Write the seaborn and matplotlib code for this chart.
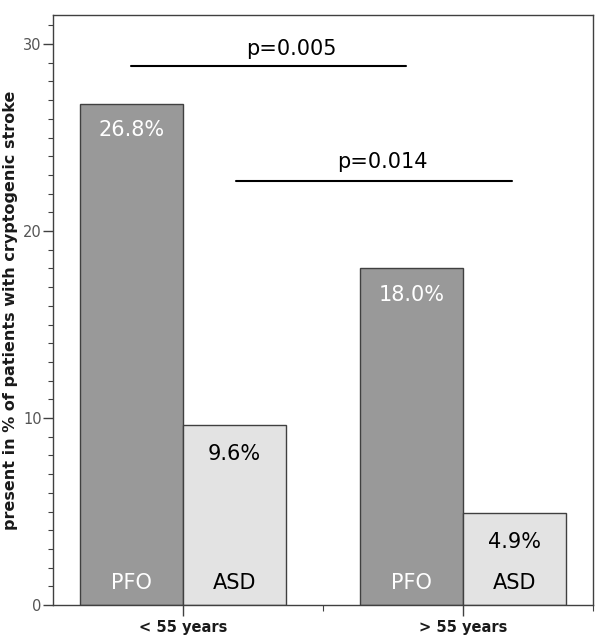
import pandas as pd
import numpy as np
import matplotlib
matplotlib.use("Agg")
import matplotlib.pyplot as plt
import seaborn as sb
from matplotlib.ticker import MultipleLocator, FixedLocator

# values
age_groups = ["< 55 years", "> 55 years"]
defects = ["PFO", "ASD"]
pfo_values = [26.8, 18.0]
asd_values = [9.6, 4.9]
pfo_labels = ["26.8%", "18.0%"]
asd_labels = ["9.6%", "4.9%"]
p_texts = ["p=0.005", "p=0.014"]

df = pd.DataFrame({
    "age": age_groups * 2,
    "defect": ["PFO"] * 2 + ["ASD"] * 2,
    "pct": pfo_values + asd_values,
})

sb.set_style("white")
plt.rcParams["font.family"] = ["DejaVu Sans"]

fig = plt.figure(figsize=(6, 6.39), dpi=100)
ax = fig.add_axes([0.0883, 0.0532, 0.9, 0.9233])

sb.barplot(data=df, x="age", y="pct", hue="defect", hue_order=defects,
           palette={"PFO": "#999999", "ASD": "#e3e3e3"}, width=0.736,
           edgecolor="#404040", linewidth=1.0, saturation=1, legend=False, ax=ax)

ax.set_xlim(-0.464, 1.464)
ax.set_ylim(0, 31.55)

# bar value labels and name labels
label_sets = [pfo_labels, asd_labels]
label_colors = ["white", "black"]
for cont, labels, col, name in zip(ax.containers, label_sets, label_colors, defects):
    for bar, lab in zip(cont, labels):
        cx = bar.get_x() + bar.get_width() / 2
        h = bar.get_height()
        off = 1.4 if h > 15 else 1.55
        ax.text(cx, h - off, lab, ha="center", va="center", color=col, fontsize=15)
        ax.text(cx, 1.2, name, ha="center", va="center", color=col, fontsize=15)

# significance lines
ax.plot([-0.186, 0.796], [28.8, 28.8], color="black", lw=1.5)
ax.text(0.386, 29.75, p_texts[0], ha="center", va="center", fontsize=15, color="black")
ax.plot([0.189, 1.175], [22.7, 22.7], color="black", lw=1.5)
ax.text(0.711, 23.7, p_texts[1], ha="center", va="center", fontsize=15, color="black")

# axes styling
for s in ax.spines.values():
    s.set_visible(True)
    s.set_color("#404040")
    s.set_linewidth(1.0)

ax.yaxis.set_major_locator(FixedLocator([0, 10, 20, 30]))
ax.yaxis.set_minor_locator(MultipleLocator(1))
ax.xaxis.set_minor_locator(FixedLocator([0.5, 1.464]))
ax.tick_params(axis="y", which="major", left=True, length=7, width=1, color="#404040",
               labelsize=10.5, labelcolor="#555555", pad=1)
ax.tick_params(axis="y", which="minor", left=True, length=3.5, width=0.8, color="#404040")
ax.tick_params(axis="x", which="major", bottom=True, length=8, width=1, color="#404040",
               labelsize=10.5, labelcolor="#1a1a1a", pad=3)
ax.tick_params(axis="x", which="minor", bottom=True, length=4, width=0.8, color="#404040")
for t in ax.get_xticklabels():
    t.set_fontweight("bold")

ax.set_xlabel("")
ax.set_ylabel("present in % of patients with cryptogenic stroke", fontsize=11.5,
              fontweight="bold", color="#1a1a1a", labelpad=4)

fig.savefig("out.png", dpi=100)
